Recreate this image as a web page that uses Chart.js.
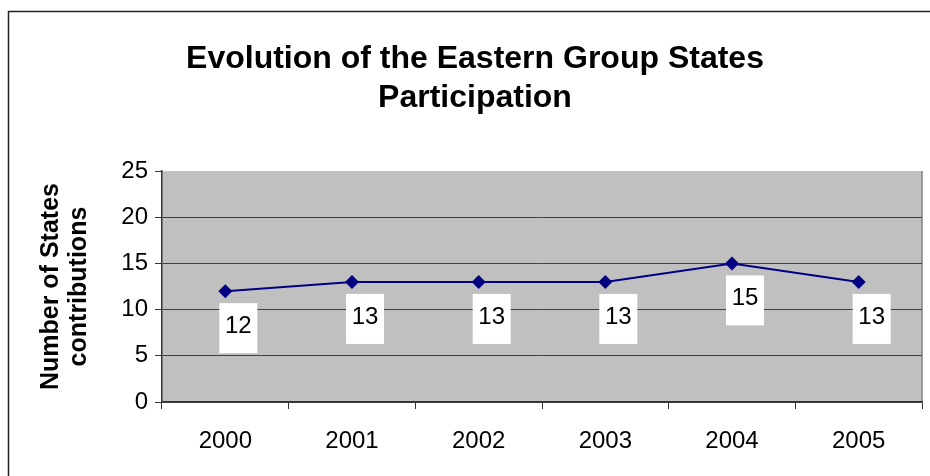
<!DOCTYPE html>
<html lang="en">
<head>
  <meta charset="UTF-8">
  <title>Eastern Group States Participation</title>
  <script src="https://cdn.jsdelivr.net/npm/chart.js"></script>
  <style>
    body { margin: 0; background: #fff; }
    canvas { display: block; }
  </style>
</head>
<body>
  <canvas id="chart" width="930" height="476"></canvas>

  <script>
    // Data
    const years = ['2000', '2001', '2002', '2003', '2004', '2005'];
    const contributions = [12, 13, 13, 13, 15, 13];
    const yTicks = [0, 5, 10, 15, 20, 25];

    const FONT = "'Liberation Sans', Arial, sans-serif";

    // gray plot background, right edge and the outer frame
    const backdrop = {
      id: 'backdrop',
      beforeDraw(chart) {
        const { ctx, chartArea: a } = chart;
        ctx.save();
        ctx.fillStyle = '#c0c0c0';
        ctx.fillRect(a.left, a.top, a.right - a.left, a.bottom - a.top);
        ctx.strokeStyle = '#808080';
        ctx.lineWidth = 1.5;
        ctx.beginPath();
        ctx.moveTo(a.right, a.top);
        ctx.lineTo(a.right, a.bottom);
        ctx.stroke();
        ctx.strokeStyle = '#222';
        ctx.lineWidth = 1.5;
        ctx.beginPath();
        ctx.moveTo(8.5, chart.height);
        ctx.lineTo(8.5, 11.5);
        ctx.lineTo(chart.width, 11.5);
        ctx.stroke();
        ctx.restore();
      }
    };

    // white boxed value labels under each point
    const valueBoxes = {
      id: 'valueBoxes',
      afterDatasetsDraw(chart) {
        const { ctx } = chart;
        const meta = chart.getDatasetMeta(0);
        ctx.save();
        ctx.font = '24px ' + FONT;
        ctx.textAlign = 'center';
        ctx.textBaseline = 'middle';
        meta.data.forEach((pt, i) => {
          ctx.fillStyle = '#fff';
          ctx.fillRect(pt.x - 6, pt.y + 12, 38, 50);
          ctx.fillStyle = '#000';
          ctx.fillText(String(contributions[i]), pt.x + 13, pt.y + 35);
        });
        ctx.restore();
      }
    };

    new Chart(document.getElementById('chart'), {
      type: 'line',
      data: {
        labels: years,
        datasets: [{
          data: contributions,
          borderColor: '#000080',
          borderWidth: 2,
          backgroundColor: '#000080',
          pointStyle: 'rectRot',
          pointRadius: 7,
          pointBorderWidth: 0,
          tension: 0
        }]
      },
      options: {
        responsive: false,
        animation: false,
        devicePixelRatio: 1,
        layout: { padding: { left: 28, right: 8, top: 0, bottom: 0 } },
        plugins: {
          legend: { display: false },
          tooltip: { enabled: false },
          title: {
            display: true,
            text: ['Evolution of the Eastern Group States', 'Participation'],
            color: '#000',
            font: { family: FONT, size: 32, weight: 'bold', lineHeight: 1.22 },
            padding: { top: 40, bottom: 53 }
          }
        },
        scales: {
          x: {
            offset: true,
            grid: {
              offset: true,
              drawOnChartArea: false,
              drawTicks: true,
              tickLength: 7,
              color: '#333'
            },
            border: { color: '#333', width: 1.5 },
            ticks: {
              color: '#000',
              font: { family: FONT, size: 24 },
              padding: 18,
              maxRotation: 0
            },
            afterFit(scale) { scale.height = 74; }
          },
          y: {
            min: 0,
            max: 25,
            afterBuildTicks(scale) { scale.ticks = yTicks.map(v => ({ value: v })); },
            grid: {
              color: ctx => (ctx.tick && ctx.tick.value === 25 ? 'rgba(0,0,0,0)' : '#404040'),
              tickColor: '#333',
              tickLength: 7,
              lineWidth: 1
            },
            border: { color: '#333', width: 1.5 },
            ticks: {
              color: '#000',
              font: { family: FONT, size: 24 },
              padding: 7
            },
            title: {
              display: true,
              text: ['Number of States', 'contributions'],
              color: '#000',
              font: { family: FONT, size: 25, weight: 'bold', lineHeight: 1.12 },
              padding: { top: 9, bottom: 0 }
            },
            afterFit(scale) { scale.width = 134; }
          }
        }
      },
      plugins: [backdrop, valueBoxes]
    });
  </script>
</body>
</html>
